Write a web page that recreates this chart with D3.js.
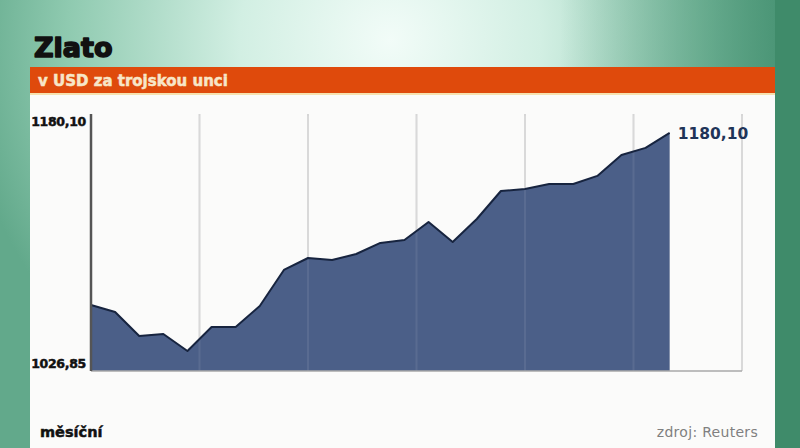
<!DOCTYPE html>
<html><head><meta charset="utf-8">
<script src="https://cdn.jsdelivr.net/npm/d3@7"></script>
<style>html,body{margin:0;padding:0;background:#5ea98a;}svg{display:block;}</style>
</head><body>
<svg id="c" width="800" height="448"></svg>
<script>
// Weekly gold price (USD / troy ounce)
const weeks = d3.range(25);
const prices = [1059.2, 1054.3, 1037.4, 1038.8, 1026.85, 1043.7, 1043.7, 1058.5, 1083.8, 1092.2,
                1090.8, 1095.0, 1102.8, 1104.9, 1117.5, 1103.5, 1119.6, 1139.3, 1140.7, 1144.2,
                1144.2, 1149.9, 1164.6, 1169.6, 1180.10];
const monthTicks = [4.5, 9, 13.5, 18, 22.5, 27];
const yTickLabels = ["1026,85", "1180,10"];
const lastLabel = "1180,10";
const title = "Zlato";
const subtitle = "v USD za trojskou unci";
const footLeft = "měsíční";
const footRight = "zdroj: Reuters";

const svg = d3.select("#c");
const defs = svg.append("defs");
const rg = defs.append("radialGradient").attr("id","bg").attr("gradientUnits","userSpaceOnUse")
  .attr("cx",390).attr("cy",40).attr("r",430);
rg.append("stop").attr("offset",0).attr("stop-color","#f2fcf8");
rg.append("stop").attr("offset",0.35).attr("stop-color","#d2efe3");
rg.append("stop").attr("offset",0.75).attr("stop-color","#8fcab0");
rg.append("stop").attr("offset",1).attr("stop-color","#62a98b");
const lg = defs.append("linearGradient").attr("id","rightdark").attr("x1",0).attr("x2",1).attr("y1",0).attr("y2",0);
lg.append("stop").attr("offset",0).attr("stop-color","#3f8c6c").attr("stop-opacity",0);
lg.append("stop").attr("offset",1).attr("stop-color","#3f8c6c").attr("stop-opacity",0.85);

svg.append("rect").attr("width",800).attr("height",448).attr("fill","#62a98b");
svg.append("rect").attr("width",800).attr("height",448).attr("fill","url(#bg)");
svg.append("rect").attr("x",560).attr("width",240).attr("height",448).attr("fill","url(#rightdark)");
svg.append("rect").attr("x",775).attr("width",25).attr("height",448).attr("fill","#3f8b6a");

// panel
svg.append("rect").attr("x",30).attr("y",93).attr("width",745).attr("height",355).attr("fill","#fbfbfa");
svg.append("rect").attr("x",30).attr("y",67).attr("width",745).attr("height",27).attr("fill","#df4a0c");
svg.append("rect").attr("x",30).attr("y",93).attr("width",745).attr("height",2).attr("fill","#f6e2b0");

svg.append("text").attr("x",34).attr("y",57).text(title)
  .attr("font-family","DejaVu Sans").attr("font-weight","bold").attr("font-size",27).attr("fill","#111")
  .attr("stroke","#111").attr("stroke-width",1.6).attr("stroke-linejoin","round");
svg.append("text").attr("x",38).attr("y",86).text(subtitle)
  .attr("font-family","DejaVu Sans").attr("font-weight","bold").attr("font-size",15).attr("fill","#f7e6c8")
  .attr("stroke","#f7e6c8").attr("stroke-width",0.5);

const x = d3.scaleLinear().domain([0, 27]).range([91, 742]);
const y = d3.scaleLinear().domain([1012.8, 1192]).range([371, 116]);

const g = svg.append("g");
g.selectAll("line.grid").data(monthTicks).join("line").attr("class","grid")
  .attr("x1",d=>x(d)).attr("x2",d=>x(d)).attr("y1",y.range()[1]-2).attr("y2",y.range()[0])
  .attr("stroke","#d6d6d6").attr("stroke-width",2);

const area = d3.area().x((d,i)=>x(weeks[i])).y0(y.range()[0]).y1(d=>y(d));
const line = d3.line().x((d,i)=>x(weeks[i])).y(d=>y(d));
g.append("path").datum(prices).attr("d",area).attr("fill","#4b5f88");
g.selectAll("line.grid2").data(monthTicks).join("line").attr("class","grid2")
  .attr("x1",d=>x(d)).attr("x2",d=>x(d)).attr("y1",y.range()[1]).attr("y2",y.range()[0])
  .attr("stroke","#ffffff").attr("stroke-opacity",0.08).attr("stroke-width",2);
g.append("path").datum(prices).attr("d",line).attr("fill","none")
  .attr("stroke","#17243f").attr("stroke-width",2).attr("stroke-linejoin","round");

g.append("line").attr("x1",x(0)).attr("x2",x(27)).attr("y1",y.range()[0]).attr("y2",y.range()[0])
  .attr("stroke","#a8a8a8").attr("stroke-width",1.5);
g.append("line").attr("x1",x(0)).attr("x2",x(0)).attr("y1",y.range()[1]-2).attr("y2",y.range()[0])
  .attr("stroke","#555").attr("stroke-width",2.5);

svg.append("text").attr("x",86).attr("y",y.range()[1]+10).attr("text-anchor","end").text(yTickLabels[1])
  .attr("font-family","DejaVu Sans").attr("font-weight","bold").attr("font-size",12.5).attr("fill","#111")
  .attr("stroke","#111").attr("stroke-width",0.5).attr("letter-spacing",-0.3);
svg.append("text").attr("x",86).attr("y",y.range()[0]-3).attr("text-anchor","end").text(yTickLabels[0])
  .attr("font-family","DejaVu Sans").attr("font-weight","bold").attr("font-size",12.5).attr("fill","#111")
  .attr("stroke","#111").attr("stroke-width",0.5).attr("letter-spacing",-0.3);

svg.append("text").attr("x",x(weeks[weeks.length-1])+8).attr("y",y(prices[prices.length-1])+6)
  .text(lastLabel).attr("font-family","DejaVu Sans").attr("font-weight","bold").attr("font-size",15.5).attr("fill","#1f3458");

svg.append("text").attr("x",40).attr("y",437).text(footLeft)
  .attr("font-family","DejaVu Sans").attr("font-weight","bold").attr("font-size",14.5).attr("fill","#111")
  .attr("stroke","#111").attr("stroke-width",0.5);
svg.append("text").attr("x",758).attr("y",437).attr("text-anchor","end").text(footRight)
  .attr("font-family","DejaVu Sans").attr("font-size",14).attr("fill","#808080").attr("letter-spacing",0.3);
</script>
</body></html>
